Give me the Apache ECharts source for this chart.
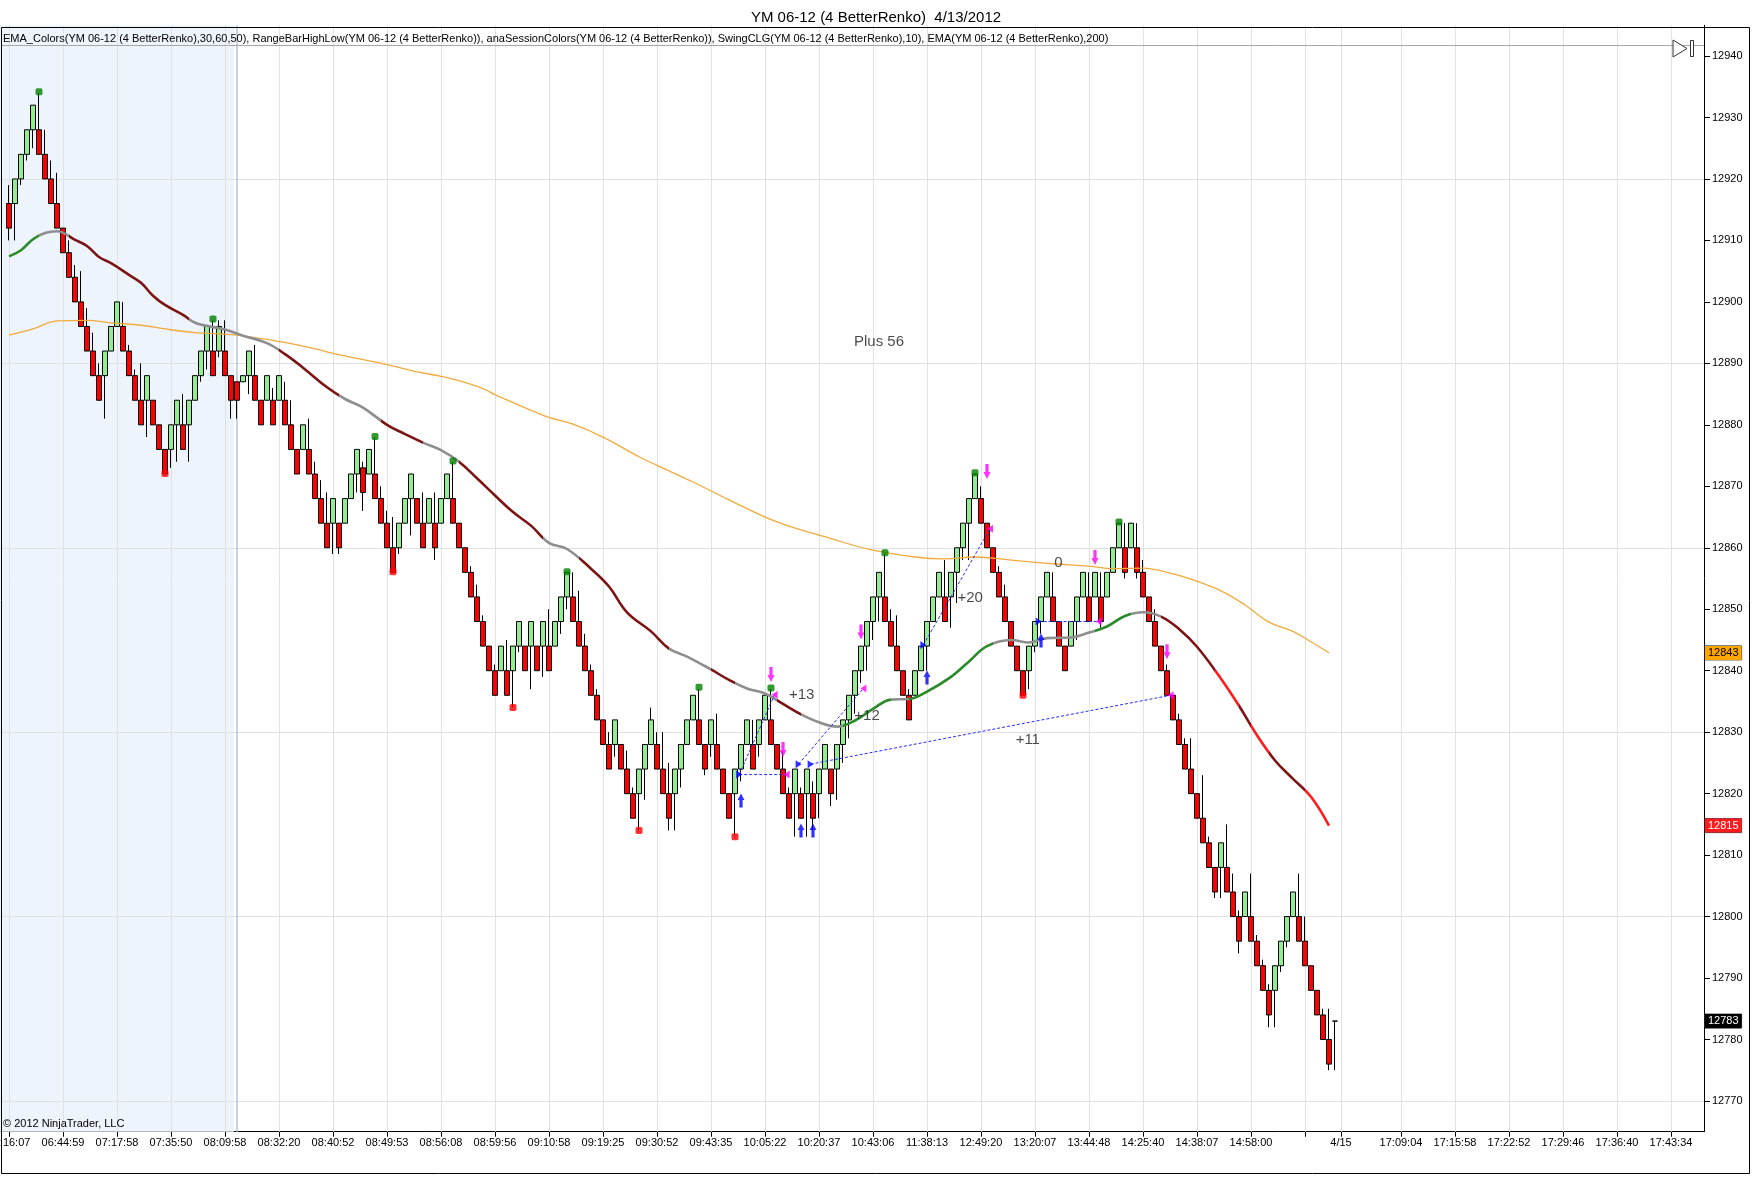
<!DOCTYPE html>
<html>
<head>
<meta charset="utf-8">
<title>YM 06-12 (4 BetterRenko)  4/13/2012</title>
<script src="https://cdn.jsdelivr.net/npm/echarts@6.0.0/dist/echarts.min.js"></script>
<style>
html, body { margin: 0; padding: 0; background: #fff; }
#chart { width: 1752px; height: 1177px; }
</style>
</head>
<body>
<div id="chart"></div>
<script>
// ---- data ----
// renko bricks: [open, close, low, high], bar index 0..221
var bricks = [
[12916,12912,12910,12919],[12916,12920,12910,12920],[12920,12924,12919,12924],[12924,12928,12923,12928],[12928,12932,12925,12932],
[12928,12924,12924,12934],[12924,12920,12920,12928],[12920,12916,12916,12923],[12916,12912,12912,12921],[12912,12908,12908,12912],
[12908,12904,12904,12910],[12904,12900,12900,12906],[12900,12896,12896,12905],[12896,12892,12892,12899],[12892,12888,12888,12895],
[12888,12884,12884,12890],[12888,12892,12881,12892],[12892,12896,12892,12896],[12896,12900,12896,12900],[12896,12892,12892,12900],
[12892,12888,12888,12893],[12888,12884,12884,12889],[12884,12880,12880,12890],[12884,12888,12878,12888],[12884,12880,12880,12884],
[12880,12876,12876,12880],[12876,12872,12872,12876],[12876,12880,12873,12880],[12880,12884,12874,12884],[12880,12876,12876,12885],
[12880,12884,12874,12884],[12884,12888,12884,12888],[12888,12892,12887,12892],[12892,12896,12889,12896],[12892,12888,12888,12897],
[12892,12896,12891,12897],[12892,12888,12888,12897],[12888,12884,12881,12888],[12887,12884,12881,12887],[12887,12888,12887,12888],
[12888,12892,12885,12892],[12888,12884,12884,12893],[12884,12880,12880,12884],[12884,12888,12884,12888],[12884,12880,12880,12886],
[12884,12888,12884,12888],[12884,12880,12880,12887],[12880,12876,12876,12884],[12876,12872,12872,12876],[12876,12880,12876,12880],
[12876,12872,12872,12881],[12872,12868,12868,12874],[12868,12864,12864,12871],[12864,12860,12860,12869],[12864,12868,12859,12868],
[12864,12860,12859,12864],[12864,12868,12864,12868],[12868,12872,12868,12872],[12872,12876,12869,12876],[12873,12869,12866,12874],
[12872,12876,12872,12876],[12872,12868,12868,12878],[12868,12864,12864,12870],[12864,12860,12860,12866],[12860,12856,12856,12865],
[12860,12864,12859,12864],[12864,12868,12864,12868],[12868,12872,12862,12872],[12868,12864,12864,12868],[12864,12860,12860,12869],
[12864,12868,12864,12868],[12864,12860,12858,12869],[12864,12868,12864,12868],[12868,12872,12868,12872],[12868,12864,12864,12874],
[12864,12860,12860,12864],[12860,12856,12856,12860],[12856,12852,12852,12857],[12852,12848,12848,12854],[12848,12844,12844,12849],
[12844,12840,12840,12844],[12840,12836,12836,12841],[12840,12844,12840,12844],[12840,12836,12836,12845],[12840,12844,12834,12844],
[12844,12848,12843,12848],[12844,12840,12840,12844],[12844,12848,12837,12848],[12844,12840,12840,12844],[12844,12848,12839,12848],
[12844,12840,12840,12850],[12844,12848,12844,12848],[12848,12852,12846,12852],[12852,12856,12850,12856],[12852,12848,12848,12856],
[12848,12844,12844,12853],[12844,12840,12840,12846],[12840,12836,12836,12841],[12836,12832,12832,12837],[12832,12828,12828,12832],
[12828,12824,12824,12830],[12828,12832,12826,12832],[12828,12824,12824,12828],[12824,12820,12820,12827],[12820,12816,12816,12821],
[12820,12824,12814,12824],[12824,12828,12819,12828],[12828,12832,12828,12834],[12828,12824,12824,12830],[12824,12820,12820,12830],
[12820,12816,12814,12825],[12820,12824,12814,12824],[12824,12828,12821,12828],[12828,12832,12828,12832],[12832,12836,12832,12836],
[12832,12828,12828,12837],[12828,12824,12823,12828],[12828,12832,12826,12832],[12828,12824,12824,12833],[12824,12820,12820,12824],
[12820,12816,12816,12820],[12820,12824,12813,12824],[12824,12828,12822,12828],[12828,12832,12828,12832],[12828,12824,12824,12832],
[12828,12832,12826,12832],[12832,12836,12832,12836],[12832,12828,12828,12837],[12828,12824,12824,12828],[12824,12820,12820,12827],
[12820,12816,12816,12821],[12820,12824,12813,12824],[12820,12816,12816,12821],[12820,12824,12813,12824],[12820,12816,12814,12822],
[12820,12824,12816,12824],[12824,12828,12824,12828],[12824,12820,12818,12824],[12824,12828,12819,12828],[12828,12832,12825,12832],
[12832,12836,12829,12836],[12836,12840,12833,12840],[12840,12844,12838,12844],[12844,12848,12840,12848],[12848,12852,12845,12852],
[12852,12856,12848,12856],[12852,12848,12848,12859],[12848,12844,12844,12850],[12844,12840,12840,12849],[12840,12836,12836,12840],
[12836,12832,12832,12837],[12836,12840,12836,12840],[12840,12844,12840,12844],[12844,12848,12840,12848],[12848,12852,12848,12852],
[12852,12856,12852,12856],[12852,12848,12848,12858],[12852,12856,12847,12856],[12856,12860,12851,12860],[12860,12864,12858,12864],
[12864,12868,12858,12868],[12868,12872,12868,12872],[12868,12864,12864,12870],[12864,12860,12860,12864],[12860,12856,12856,12860],
[12856,12852,12852,12857],[12852,12848,12848,12854],[12848,12844,12844,12848],[12844,12840,12840,12844],[12840,12836,12836,12840],
[12840,12844,12837,12844],[12844,12848,12843,12848],[12848,12852,12846,12852],[12852,12856,12852,12856],[12852,12848,12848,12856],
[12848,12844,12844,12848],[12844,12840,12840,12844],[12844,12848,12844,12848],[12848,12852,12845,12852],[12852,12856,12852,12856],
[12852,12848,12848,12856],[12852,12856,12852,12856],[12852,12848,12847,12856],[12852,12856,12852,12856],[12856,12860,12856,12860],
[12860,12864,12860,12864],[12860,12856,12855,12864],[12860,12864,12860,12864],[12860,12856,12855,12864],[12856,12852,12852,12858],
[12852,12848,12848,12852],[12848,12844,12844,12850],[12844,12840,12840,12844],[12840,12836,12836,12841],[12836,12832,12832,12836],
[12832,12828,12828,12833],[12828,12824,12824,12829],[12824,12820,12820,12829],[12820,12816,12816,12820],[12816,12812,12812,12823],
[12812,12808,12808,12813],[12808,12804,12803,12808],[12808,12812,12803,12812],[12808,12804,12804,12815],[12804,12800,12800,12807],
[12800,12796,12794,12801],[12800,12804,12800,12804],[12800,12796,12796,12807],[12796,12792,12792,12797],[12792,12788,12788,12793],
[12788,12784,12782,12789],[12788,12792,12782,12792],[12792,12796,12791,12796],[12796,12800,12795,12800],[12800,12804,12800,12804],
[12800,12796,12796,12807],[12796,12792,12792,12800],[12792,12788,12788,12792],[12788,12784,12784,12788],[12784,12780,12780,12785],
[12780,12776,12775,12785],[12783,12783,12775,12783]
];

// time labels on the x axis and the bar they sit under
var tickLabels = ['06:16:07','06:44:59','07:17:58','07:35:50','08:09:58','08:32:20','08:40:52','08:49:53','08:56:08','08:59:56',
  '09:10:58','09:19:25','09:30:52','09:43:35','10:05:22','10:20:37','10:43:06','11:38:13','12:49:20','13:20:07','13:44:48',
  '14:25:40','14:38:07','14:58:00','','4/15','17:09:04','17:15:58','17:22:52','17:29:46','17:36:40','17:43:34'];
var tickBars = [0,9,18,27,36,45,54,63,72,81,90,99,108,117,126,135,144,153,162,171,180,189,198,207,216,222,232,241,250,259,268,277];
var lastSlot = 282;          // empty slots continue to the right edge
var sessionBreakBar = 38;    // anaSessionColors boundary

// EMA_Colors(30) line [bar, price]
var ema30 = [[0,12907.4],[2,12908.4],[4,12910.2],[6,12911.2],[8,12911.5],[11,12910.1],[13,12909.1],[15,12907.3],[17,12906.3],
  [20,12904.4],[22,12903.1],[24,12901.0],[26,12899.5],[29,12897.9],[31,12896.6],[33,12896.1],[36,12895.5],[39,12894.5],
  [43,12893.3],[46,12891.5],[49,12889.3],[53,12886.1],[56,12884.2],[59,12882.8],[63,12880.0],[66,12878.5],[69,12877.1],
  [72,12875.9],[75,12874.0],[78,12871.3],[81,12868.5],[84,12865.8],[87,12863.6],[90,12860.8],[93,12859.8],[97,12856.6],
  [100,12853.7],[103,12849.5],[107,12846.4],[110,12843.6],[113,12842.3],[117,12840.2],[120,12838.5],[123,12837.1],
  [126,12836.3],[129,12834.6],[132,12832.9],[135,12831.6],[138,12830.9],[141,12831.9],[144,12833.8],[147,12835.3],
  [150,12835.4],[153,12836.6],[157,12839.0],[160,12841.5],[163,12844.0],[167,12845.0],[170,12844.6],[173,12845.3],
  [177,12845.4],[180,12846.2],[183,12847.2],[186,12848.9],[189,12849.5],[192,12848.8],[195,12846.8],[198,12843.9],
  [202,12838.7],[205,12834.3],[208,12829.5],[211,12825.4],[214,12822.4],[217,12819.5],[220,12814.8]];
// slope state of EMA_Colors from a bar onward
var ema30Trend = [[0,'up'],[5,'flat'],[10,'down'],[30,'flat'],[45,'down'],[55,'flat'],[62,'down'],[69,'flat'],[75,'down'],
  [89,'flat'],[95,'down'],[110,'flat'],[117,'down'],[121,'flat'],[128,'down'],[132,'flat'],[139,'up'],[147,'flat'],[150,'up'],
  [164,'flat'],[181,'up'],[187,'flat'],[192,'down'],[201,'fall'],[205,'down'],[207,'fall'],[210,'down'],[216,'fall']];

// EMA(200)
var ema200 = [[0,12894.6],[4,12895.6],[8,12896.9],[13,12897.0],[17,12896.6],[22,12896.2],[26,12895.6],[31,12895.0],[35,12894.8],
  [38,12894.6],[43,12893.9],[49,12892.8],[56,12891.2],[63,12889.8],[68,12888.6],[72,12887.9],[75,12887.2],[79,12885.9],
  [81,12884.9],[85,12883.2],[90,12881.2],[94,12880.1],[99,12878.0],[105,12874.8],[108,12873.4],[114,12870.7],[120,12867.8],
  [128,12864.2],[137,12861.5],[144,12859.6],[151,12858.5],[156,12858.2],[161,12858.5],[167,12858.0],[174,12857.4],
  [180,12857.0],[184,12856.6],[189,12856.7],[193,12856.0],[197,12854.9],[202,12853.0],[206,12850.7],[210,12847.9],
  [214,12846.4],[217,12844.7],[220,12842.9]];

// SwingCLG dots
var swingHighs = [[5,12934.2],[34,12897.2],[61,12878.1],[74,12874.1],[93,12856.1],[115,12837.3],[127,12837.2],[146,12859.2],[161,12872.2],[185,12864.2]];
var swingLows = [[26,12872.1],[64,12856.1],[84,12834.0],[105,12814.0],[121,12813.0],[169,12836.0]];

// trades: entry / exit points
var tradeEntries = [[121.7,12823.1],[131.6,12824.8],[133.6,12824.8],[152.4,12844.2],[171.6,12848.0]];
var tradeExits = [[127.6,12836.1],[129.6,12823.1],[142.4,12837.1],[163.5,12863.1],[181.6,12848.0],[193.6,12836.0]];
var tradeLinks = [[0,0],[0,1],[1,2],[2,5],[3,3],[4,4]];   // [entry, exit]
var buyArrows = [[122,12818.9],[132,12814.0],[134,12814.0],[153,12838.9],[172,12844.9]];
var sellArrows = [[127,12839.4],[129,12827.2],[142,12846.3],[163,12872.4],[181,12858.4],[193,12843.1]];
var notes = [[145,12893.5,'Plus 56'],[132.1,12836.1,'+13'],[143,12832.7,'+12'],[160.2,12851.8,'+20'],[174.9,12857.5,'0'],[169.8,12828.8,'+11']];

var indicatorText = 'EMA_Colors(YM 06-12 (4 BetterRenko),30,60,50), RangeBarHighLow(YM 06-12 (4 BetterRenko)), anaSessionColors(YM 06-12 (4 BetterRenko)), SwingCLG(YM 06-12 (4 BetterRenko),10), EMA(YM 06-12 (4 BetterRenko),200)';

// ---- build ----
var FONT = "'Liberation Sans', Arial, sans-serif";
var trendColor = { up: '#2a8a2a', flat: '#8e8e8e', down: '#7c1414', fall: '#ff1c1c' };

// slot 0 is an empty lead-in slot, bar i sits in slot i+1
var categories = [];
var candleData = [['-','-','-','-']];
var shadeData = [];
for (var j = 0; j <= lastSlot + 1; j++) {
    categories.push('');
    shadeData.push(j <= sessionBreakBar ? 12945 : '-');
}
for (var i = 0; i < bricks.length; i++) {
    candleData.push(bricks[i]);
}
var tickSlots = {};
for (var k = 0; k < tickBars.length; k++) {
    categories[tickBars[k] + 1] = tickLabels[k];
    tickSlots[tickBars[k] + 1] = true;
}

var gridLines = tickBars.map(function (b) { return { xAxis: b + 1 }; });
gridLines.push({ xAxis: sessionBreakBar + 1, lineStyle: { color: '#b3c4dc', width: 1.5 } });

var trendPieces = ema30Trend.map(function (t, n) {
    var next = n + 1 < ema30Trend.length ? ema30Trend[n + 1][0] : 10000;
    return { gte: n === 0 ? -10 : t[0], lt: next, color: trendColor[t[1]] };
});

function priceTag(value, bg, fg) {
    return {
        silent: true,
        symbol: ['none', 'none'],
        lineStyle: { color: 'rgba(0,0,0,0)', width: 0 },
        label: {
            show: true, position: 'end', distance: 1,
            formatter: function () { return String(Math.round(value)); },
            backgroundColor: bg, color: fg, fontSize: 11, fontFamily: FONT,
            padding: [2, 3, 1, 3], borderColor: '#333', borderWidth: 0.5
        },
        data: [{ yAxis: value }]
    };
}

var upArrow = 'path://M5,0 L10,7 L7.3,7 L7.3,15 L2.7,15 L2.7,7 L0,7 Z';
var downArrow = 'path://M2.7,0 L7.3,0 L7.3,8 L10,8 L5,15 L0,8 L2.7,8 Z';

var series = [
    {
        name: 'session', type: 'bar', xAxisIndex: 0, yAxisIndex: 0,
        data: shadeData, barCategoryGap: '0%', barWidth: '100%', z: 0, silent: true,
        itemStyle: { color: '#edf4fc' },
        markLine: {
            silent: true, symbol: ['none', 'none'], label: { show: false },
            lineStyle: { color: '#e1e1e1', width: 1, type: 'solid' },
            data: gridLines
        }
    },
    {
        name: 'YM 06-12', type: 'candlestick', xAxisIndex: 0, yAxisIndex: 0,
        data: candleData, barWidth: 5, z: 10,
        itemStyle: {
            color: '#90ee90', color0: '#ff0000',
            borderColor: '#000', borderColor0: '#000', borderColorDoji: '#000', borderWidth: 1
        },
        markLine: priceTag(bricks[bricks.length - 1][1], '#000', '#fff')
    },
    {
        name: 'EMA200', type: 'line', xAxisIndex: 1, yAxisIndex: 1, z: 11,
        data: ema200, smooth: 0.4, showSymbol: false, silent: true,
        lineStyle: { color: '#f3aa3c', width: 1.3 },
        markLine: priceTag(ema200[ema200.length - 1][1], '#ffa500', '#000')
    },
    {
        name: 'EMA_Colors', type: 'line', xAxisIndex: 1, yAxisIndex: 1, z: 11,
        data: ema30, smooth: 0.4, showSymbol: false, silent: true,
        lineStyle: { width: 2.6 },
        markLine: priceTag(ema30[ema30.length - 1][1], '#ff1c1c', '#fff')
    },
    {
        name: 'swing high', type: 'scatter', xAxisIndex: 1, yAxisIndex: 1, z: 12,
        data: swingHighs, symbol: 'roundRect', symbolSize: 7, itemStyle: { color: '#008000' }
    },
    {
        name: 'swing low', type: 'scatter', xAxisIndex: 1, yAxisIndex: 1, z: 12,
        data: swingLows, symbol: 'roundRect', symbolSize: 7, itemStyle: { color: '#ff0000' }
    }
];

tradeLinks.forEach(function (t) {
    series.push({
        type: 'line', xAxisIndex: 1, yAxisIndex: 1, z: 12, silent: true,
        data: [tradeEntries[t[0]], tradeExits[t[1]]], showSymbol: false,
        lineStyle: { color: '#2a2aff', width: 1, type: [3, 2] }
    });
});

series.push(
    {
        name: 'entry', type: 'scatter', xAxisIndex: 1, yAxisIndex: 1, z: 13,
        data: tradeEntries, symbol: 'triangle', symbolSize: [8, 6], symbolRotate: -90,
        itemStyle: { color: '#0000ff' }
    },
    {
        name: 'exit', type: 'scatter', xAxisIndex: 1, yAxisIndex: 1, z: 13,
        data: tradeExits, symbol: 'triangle', symbolSize: [8, 6], symbolRotate: 90,
        itemStyle: { color: '#ff00ff' }
    },
    {
        name: 'buy', type: 'scatter', xAxisIndex: 1, yAxisIndex: 1, z: 13,
        data: buyArrows, symbol: upArrow, symbolSize: [7, 14], itemStyle: { color: '#0000ff' }
    },
    {
        name: 'sell', type: 'scatter', xAxisIndex: 1, yAxisIndex: 1, z: 13,
        data: sellArrows, symbol: downArrow, symbolSize: [7, 15], itemStyle: { color: '#ff00ff' }
    },
    {
        name: 'notes', type: 'scatter', xAxisIndex: 1, yAxisIndex: 1, z: 14, silent: true,
        data: notes.map(function (n) { return { value: [n[0], n[1]], name: n[2] }; }),
        symbolSize: 1, itemStyle: { color: 'rgba(0,0,0,0)' },
        label: {
            show: true, position: 'inside', formatter: '{b}', color: '#1a1a1a',
            fontFamily: FONT, fontSize: 15
        }
    }
);

var option = {
    animation: false,
    backgroundColor: '#fff',
    textStyle: { fontFamily: FONT },
    title: {
        text: 'YM 06-12 (4 BetterRenko)  4/13/2012', left: 'center', top: 5,
        textStyle: { fontSize: 15, fontWeight: 'normal', color: '#000', fontFamily: FONT }
    },
    grid: [
        { left: 0, right: 48, top: 25.27, bottom: 45.27, containLabel: false, outerBoundsMode: 'none' },
        { left: 0, right: 48, top: 56, bottom: 76, containLabel: false, outerBoundsMode: 'none' }
    ],
    xAxis: [
        {
            type: 'category', gridIndex: 0, data: categories, boundaryGap: true,
            axisLine: { show: true, onZero: false, lineStyle: { color: '#000', width: 1 } },
            axisTick: {
                show: true, alignWithLabel: true, length: 5, lineStyle: { color: '#000' },
                interval: function (idx) { return !!tickSlots[idx]; }
            },
            axisLabel: {
                show: true, color: '#000', fontSize: 11, margin: 6, fontFamily: FONT,
                interval: function (idx) { return !!tickSlots[idx]; }
            },
            splitLine: { show: false }
        },
        {
            type: 'value', gridIndex: 1, min: -1.5, max: lastSlot + 0.5, show: false,
            axisLine: { onZero: false },
            splitLine: { show: false }
        }
    ],
    yAxis: [
        {
            type: 'value', gridIndex: 0, position: 'right', min: 12765, max: 12945, scale: true,
            axisLine: { show: true, onZero: false, lineStyle: { color: '#000', width: 1 } },
            axisTick: { show: false }, axisLabel: { show: false }, splitLine: { show: false }
        },
        {
            type: 'value', gridIndex: 1, position: 'right', min: 12770, max: 12940, interval: 10, z: 1,
            axisLine: { show: false, onZero: false },
            axisTick: { show: true, length: 6, lineStyle: { color: '#000' } },
            axisLabel: {
                show: true, color: '#000', fontSize: 11, margin: 8, fontFamily: FONT,
                formatter: function (v) { return String(v); }
            },
            splitLine: {
                show: true,
                lineStyle: { color: ['#e1e1e1', 'rgba(0,0,0,0)', 'rgba(0,0,0,0)'], width: 1 }
            }
        }
    ],
    visualMap: [{
        show: false, type: 'piecewise', dimension: 0, seriesIndex: 3,
        pieces: trendPieces, outOfRange: { color: trendColor.flat }
    }],
    graphic: [
        {
            type: 'line', silent: true, z: 50,
            shape: { x1: 1, y1: 45.5, x2: 1704, y2: 45.5 },
            style: { stroke: '#a6a6a6', lineWidth: 1 }
        },
        {
            type: 'text', silent: true, z: 50, x: 3, y: 39,
            style: { text: indicatorText, fill: '#000', fontSize: 11, fontFamily: FONT, verticalAlign: 'middle' }
        },
        {
            type: 'text', silent: true, z: 50, x: 3, y: 1124,
            style: { text: '\u00a9 2012 NinjaTrader, LLC', fill: '#000', fontSize: 11, fontFamily: FONT, verticalAlign: 'middle' }
        },
        {
            type: 'polygon', silent: true, z: 50,
            shape: { points: [[1673, 40], [1687, 48.5], [1673, 57]] },
            style: { fill: '#fff', stroke: '#333', lineWidth: 1 }
        },
        {
            type: 'rect', silent: true, z: 50,
            shape: { x: 1690.5, y: 40.5, width: 3, height: 16 },
            style: { fill: '#fff', stroke: '#333', lineWidth: 1 }
        },
        {
            type: 'rect', silent: true, z: 100,
            shape: { x: 1.5, y: 27.5, width: 1748, height: 1146 },
            style: { fill: 'none', stroke: '#000', lineWidth: 1 }
        }
    ],
    series: series
};

var myChart = echarts.init(document.getElementById('chart'), null, { renderer: 'canvas', width: 1752, height: 1177 });
myChart.setOption(option);
window.addEventListener('resize', myChart.resize);
</script>
</body>
</html>
